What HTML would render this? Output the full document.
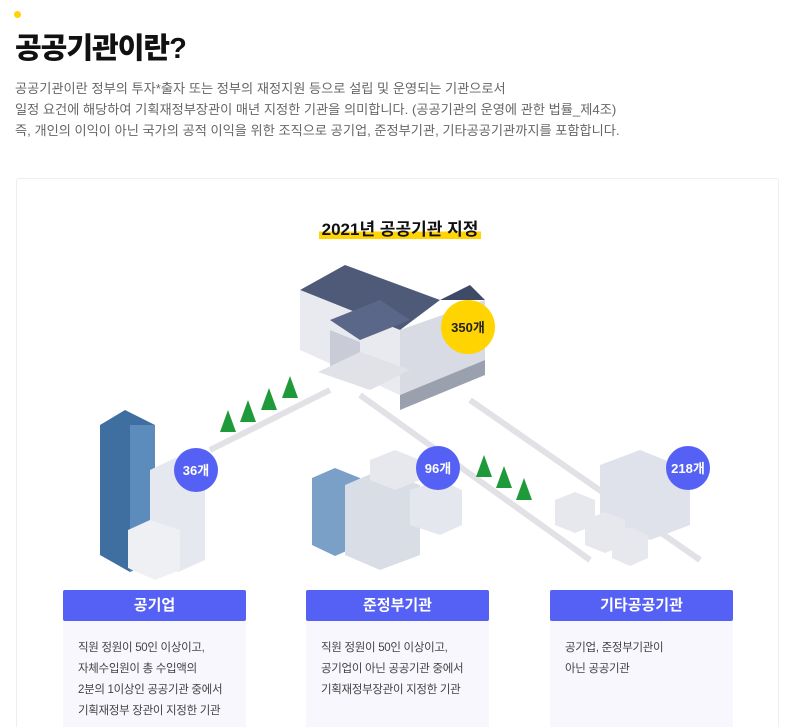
<!DOCTYPE html>
<html style="overflow:hidden;height:727px"><head><meta charset="utf-8"><style>
body{margin:0;width:800px;height:727px;background:#fff;font-family:"Liberation Sans","Noto Sans CJK KR",sans-serif;position:relative;overflow:hidden;color:#222}
.dot{position:absolute;left:14px;top:11px;width:7px;height:7px;border-radius:50%;background:#ffd400}
h1{position:absolute;left:15px;top:25px;margin:0;font-size:29px;font-weight:900;color:#111;letter-spacing:-1px}
.desc{position:absolute;left:15px;top:78px;font-size:13.2px;line-height:21px;color:#666;letter-spacing:0}
.panel{position:absolute;left:16px;top:178px;width:763px;height:549px;border:1px solid #eee;border-bottom:none;border-radius:3px 3px 0 0;box-sizing:border-box}
.ttl{position:absolute;left:0;width:800px;top:215px;text-align:center;font-size:17px;font-weight:bold;color:#111}
.ttl span{background:linear-gradient(transparent 60%,#ffd400 60%);padding:0 3px}
.card{position:absolute;top:590px;width:183px;height:137px;background:#f7f7fd}
.card .h{height:31px;background:#5561f5;color:#fff;font-size:15px;font-weight:bold;text-align:center;line-height:31px;border-radius:2px}
.card .b{padding:17px 0 0 15px;font-size:11.5px;line-height:21px;color:#444;letter-spacing:-0.3px}
svg{position:absolute;left:0;top:0}
</style></head><body>
<div class="dot"></div>
<h1>공공기관이란?</h1>
<div class="desc">공공기관이란 정부의 투자*출자 또는 정부의 재정지원 등으로 설립 및 운영되는 기관으로서<br>일정 요건에 해당하여 기획재정부장관이 매년 지정한 기관을 의미합니다. (공공기관의 운영에 관한 법률_제4조)<br>즉, 개인의 이익이 아닌 국가의 공적 이익을 위한 조직으로 공기업, 준정부기관, 기타공공기관까지를 포함합니다.</div>
<div class="panel"></div>
<div class="ttl"><span>2021년 공공기관 지정</span></div>
<svg width="800" height="727">
<g stroke="#e2e2e6" stroke-width="6" fill="none">
<path d="M330 390 L210 450"/><path d="M360 395 L590 560"/><path d="M470 400 L700 560"/>
</g>
<polygon points="300,290 345,265 440,300 400,330" fill="#4e5a78"/>
<polygon points="300,290 400,330 400,395 300,350" fill="#e8eaf0"/>
<polygon points="400,330 485,300 485,360 400,395" fill="#d8dbe4"/>
<polygon points="440,300 485,300 470,285" fill="#3f4a66"/>
<polygon points="330,320 380,300 410,320 360,340" fill="#5b6788"/>
<polygon points="330,330 360,342 360,380 330,368" fill="#c9ccd6"/>
<polygon points="318,372 370,390 410,370 360,352" fill="#e0e2e8"/>
<polygon points="400,395 485,360 485,375 400,410" fill="#9aa0ad"/>
<circle cx="468" cy="327" r="27" fill="#ffd400"/>
<text x="468" y="332" text-anchor="middle" font-size="13" font-weight="bold" fill="#222">350개</text>
<g fill="#1f9a3a"><polygon points="228,410 220,432 236,432"/><polygon points="248,400 240,422 256,422"/><polygon points="269,388 261,410 277,410"/><polygon points="290,376 282,398 298,398"/>
<polygon points="484,455 476,477 492,477"/><polygon points="504,466 496,488 512,488"/><polygon points="524,478 516,500 532,500"/></g>
<polygon points="100,425 125,410 155,425 155,560 130,572 100,555" fill="#3f6fa0"/>
<polygon points="130,425 155,425 155,560 130,572" fill="#5b8cbc"/>
<polygon points="150,470 175,458 205,470 205,560 178,572 150,560" fill="#e5e8ee"/>
<polygon points="128,530 150,520 180,530 180,570 155,580 128,568" fill="#eef0f4"/>
<circle cx="196" cy="470" r="22" fill="#5561f5"/>
<text x="196" y="475" text-anchor="middle" font-size="13" font-weight="bold" fill="#fff">36개</text>
<polygon points="312,478 335,468 360,478 360,545 335,556 312,545" fill="#7aa0c8"/>
<polygon points="345,485 380,470 420,485 420,555 380,570 345,555" fill="#d9dde5"/>
<polygon points="370,460 395,450 420,460 420,480 395,490 370,480" fill="#e6e8ee"/>
<polygon points="410,490 440,480 462,490 462,525 440,535 410,525" fill="#e4e7ee"/>
<circle cx="438" cy="468" r="22" fill="#5561f5"/>
<text x="438" y="473" text-anchor="middle" font-size="13" font-weight="bold" fill="#fff">96개</text>
<polygon points="600,465 640,450 690,470 690,525 650,540 600,520" fill="#dfe2ea"/>
<polygon points="555,500 575,492 595,500 595,525 575,533 555,525" fill="#e6e8ee"/>
<polygon points="585,520 605,512 625,520 625,545 605,553 585,545" fill="#e6e8ee"/>
<polygon points="612,535 630,527 648,535 648,558 630,566 612,558" fill="#e6e8ee"/>
<circle cx="688" cy="468" r="22" fill="#5561f5"/>
<text x="688" y="473" text-anchor="middle" font-size="13" font-weight="bold" fill="#fff">218개</text>
</svg>
<div class="card" style="left:63px"><div class="h">공기업</div><div class="b">직원 정원이 50인 이상이고,<br>자체수입원이 총 수입액의<br>2분의 1이상인 공공기관 중에서<br>기획재정부 장관이 지정한 기관</div></div>
<div class="card" style="left:306px"><div class="h">준정부기관</div><div class="b">직원 정원이 50인 이상이고,<br>공기업이 아닌 공공기관 중에서<br>기획재정부장관이 지정한 기관</div></div>
<div class="card" style="left:550px"><div class="h">기타공공기관</div><div class="b">공기업, 준정부기관이<br>아닌 공공기관</div></div>
</body></html>
